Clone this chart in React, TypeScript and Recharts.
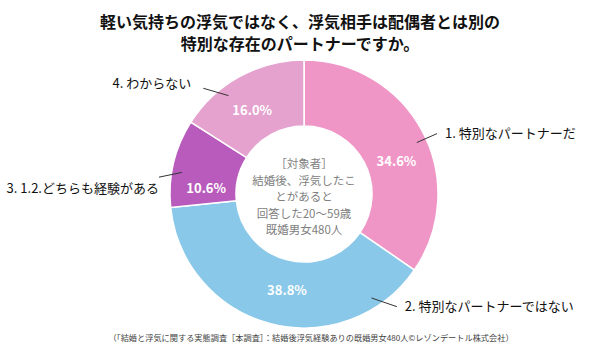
import { Cell, Pie, PieChart } from 'recharts';

const categories = [
  '1. 特別なパートナーだ',
  '2. 特別なパートナーではない',
  '3. 1.2.どちらも経験がある',
  '4. わからない',
];
const shares = [34.6, 38.8, 10.6, 16.0];
const colors = ['#EF96C7', '#89C8E8', '#B85BBC', '#E5A2CF'];

const titleLines = [
  '軽い気持ちの浮気ではなく、浮気相手は配偶者とは別の',
  '特別な存在のパートナーですか。',
];
const centerLines = [
  '［対象者］',
  '結婚後、浮気したこ',
  'とがあると',
  '回答した20～59歳',
  '既婚男女480人',
];
const footnote =
  '（「結婚と浮気に関する実態調査［本調査］：結婚後浮気経験ありの既婚男女480人©レゾンデートル株式会社）';

const data = categories.map((name, i) => ({ name, value: shares[i] }));

// label placement tweaks (degrees off the slice's mid angle, pixel offsets)
const pctShift = [-8.4, 4.4, 9.8, 3.1];
const lineStart = [-3.2, 47.4, 3.3, 8.7];
const lineEnd = [-3.3, 53.9, 6.7, 14.8];
const textOffset = [
  { dx: 8, dy: 0, anchor: 'start' },
  { dx: 8, dy: 0, anchor: 'start' },
  { dx: 0, dy: 11, anchor: 'end' },
  { dx: -12, dy: -5, anchor: 'end' },
];

const FONT = '"Noto Sans CJK JP", "Noto Sans", sans-serif';
const RAD = Math.PI / 180;

function polar(cx: number, cy: number, r: number, deg: number) {
  return { x: cx + r * Math.cos(deg * RAD), y: cy - r * Math.sin(deg * RAD) };
}

function SliceLabel(props: any) {
  const { cx, cy, midAngle, innerRadius, outerRadius, index } = props;
  const p = polar(cx, cy, (innerRadius + outerRadius) / 2 - 3, midAngle + pctShift[index]);
  const a = polar(cx, cy, outerRadius - 10, midAngle + lineStart[index]);
  const b = polar(cx, cy, outerRadius + 12, midAngle + lineEnd[index]);
  const t = textOffset[index];
  return (
    <g>
      <text
        x={p.x}
        y={p.y}
        dy="0.355em"
        textAnchor="middle"
        fill="#fff"
        fontSize={13}
        fontWeight="bold"
        fontFamily={FONT}
      >
        {`${shares[index].toFixed(1)}%`}
      </text>
      <line x1={a.x} y1={a.y} x2={b.x} y2={b.y} stroke="#333" strokeWidth={1} />
      <text
        x={b.x + t.dx}
        y={b.y + t.dy}
        dy="0.355em"
        textAnchor={t.anchor as any}
        fill="#111"
        fontSize={13}
        fontFamily={FONT}
      >
        {categories[index]}
      </text>
    </g>
  );
}

export default function App() {
  return (
    <div style={{ position: 'absolute', left: 0, top: 0, width: 600, height: 351, background: '#fff' }}>
      <PieChart
        width={600}
        height={351}
        margin={{ top: 0, right: 0, bottom: 0, left: 0 }}
        style={{ position: 'absolute', left: 0, top: 0 }}
      >
        <Pie
          data={data}
          dataKey="value"
          cx={304}
          cy={194}
          innerRadius={68}
          outerRadius={134}
          startAngle={90}
          endAngle={-270}
          stroke="#fff"
          strokeWidth={1.5}
          label={SliceLabel}
          labelLine={false}
          isAnimationActive={false}
        >
          {data.map((entry, i) => (
            <Cell key={`cell-${entry.name}`} fill={colors[i]} />
          ))}
        </Pie>
      </PieChart>
      <svg
        width={600}
        height={351}
        style={{ position: 'absolute', left: 0, top: 0, pointerEvents: 'none' }}
      >
        {titleLines.map((line, i) => (
          <text
            key={line}
            x={300}
            y={22 + i * 22}
            dy="0.355em"
            textAnchor="middle"
            fontSize={16}
            fontWeight="bold"
            fill="#111"
            fontFamily={FONT}
          >
            {line}
          </text>
        ))}
        {centerLines.map((line, i) => (
          <text
            key={line}
            x={304}
            y={164 + i * 16.6}
            dy="0.355em"
            textAnchor="middle"
            fontSize={11.5}
            fill="#808080"
            fontFamily={FONT}
          >
            {line}
          </text>
        ))}
        <text
          x={311}
          y={338}
          dy="0.355em"
          textAnchor="middle"
          fontSize={8.2}
          fill="#444"
          fontFamily={FONT}
        >
          {footnote}
        </text>
      </svg>
    </div>
  );
}
